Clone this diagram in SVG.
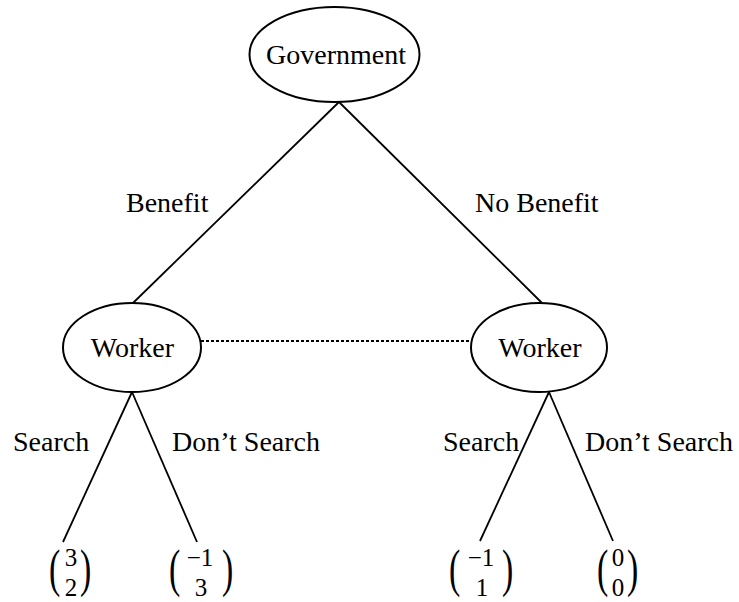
<svg xmlns="http://www.w3.org/2000/svg" width="739" height="602" viewBox="0 0 739 602">
<style>
.node{fill:#fff;stroke:#000;stroke-width:2}
.lbl{font-family:"Liberation Serif","Times New Roman",serif;font-size:28px;fill:#000}
.num{font-family:"Liberation Serif","Times New Roman",serif;font-size:25px;fill:#000;text-anchor:middle}
.par{font-family:"Liberation Serif","Times New Roman",serif;font-size:52px;fill:#000}
.edge{stroke:#000;stroke-width:1.8;fill:none}
</style>
<rect width="739" height="602" fill="#fff"/>
<g id="connectors">
<line class="edge" x1="339" y1="102" x2="133" y2="303"/>
<line class="edge" x1="339" y1="102" x2="542" y2="303"/>
<line class="edge" x1="201" y1="341" x2="471" y2="341" stroke-dasharray="3,2" stroke-width="1.5"/>
<line class="edge" x1="132" y1="392" x2="63" y2="542"/>
<line class="edge" x1="132" y1="392" x2="197" y2="542"/>
<line class="edge" x1="549" y1="392" x2="480" y2="541"/>
<line class="edge" x1="549" y1="392" x2="613" y2="541"/>
</g>
<g id="government">
<ellipse class="node" cx="334.5" cy="54.5" rx="85" ry="47.5"/>
<text class="lbl" x="336" y="64" text-anchor="middle">Government</text>
</g>
<g id="worker-left">
<ellipse class="node" cx="132" cy="347.5" rx="69" ry="44.5"/>
<text class="lbl" x="132.5" y="357" text-anchor="middle">Worker</text>
</g>
<g id="worker-right">
<ellipse class="node" cx="539" cy="347.5" rx="68" ry="44.5"/>
<text class="lbl" x="540" y="357" text-anchor="middle">Worker</text>
</g>
<g id="edge-labels">
<text class="lbl" x="126" y="212">Benefit</text>
<text class="lbl" x="475" y="212">No Benefit</text>
<text class="lbl" x="13" y="451">Search</text>
<text class="lbl" x="172" y="451">Don’t Search</text>
<text class="lbl" x="443" y="451">Search</text>
<text class="lbl" x="585" y="451">Don’t Search</text>
</g>
<g id="leaf-1">
<text class="par" transform="translate(49,586) scale(0.65,1)">(</text>
<text class="par" transform="translate(80,586) scale(0.65,1)">)</text>
<text class="num" x="71" y="566">3</text>
<text class="num" x="71" y="596">2</text>
</g>
<g id="leaf-2">
<text class="par" transform="translate(169,586) scale(0.65,1)">(</text>
<text class="par" transform="translate(222,586) scale(0.65,1)">)</text>
<text class="num" x="200" y="566">−1</text>
<text class="num" x="201" y="596">3</text>
</g>
<g id="leaf-3">
<text class="par" transform="translate(449,586) scale(0.65,1)">(</text>
<text class="par" transform="translate(502,586) scale(0.65,1)">)</text>
<text class="num" x="481" y="566">−1</text>
<text class="num" x="482" y="596">1</text>
</g>
<g id="leaf-4">
<text class="par" transform="translate(597,586) scale(0.65,1)">(</text>
<text class="par" transform="translate(627,586) scale(0.65,1)">)</text>
<text class="num" x="618" y="566">0</text>
<text class="num" x="618" y="596">0</text>
</g>
</svg>
